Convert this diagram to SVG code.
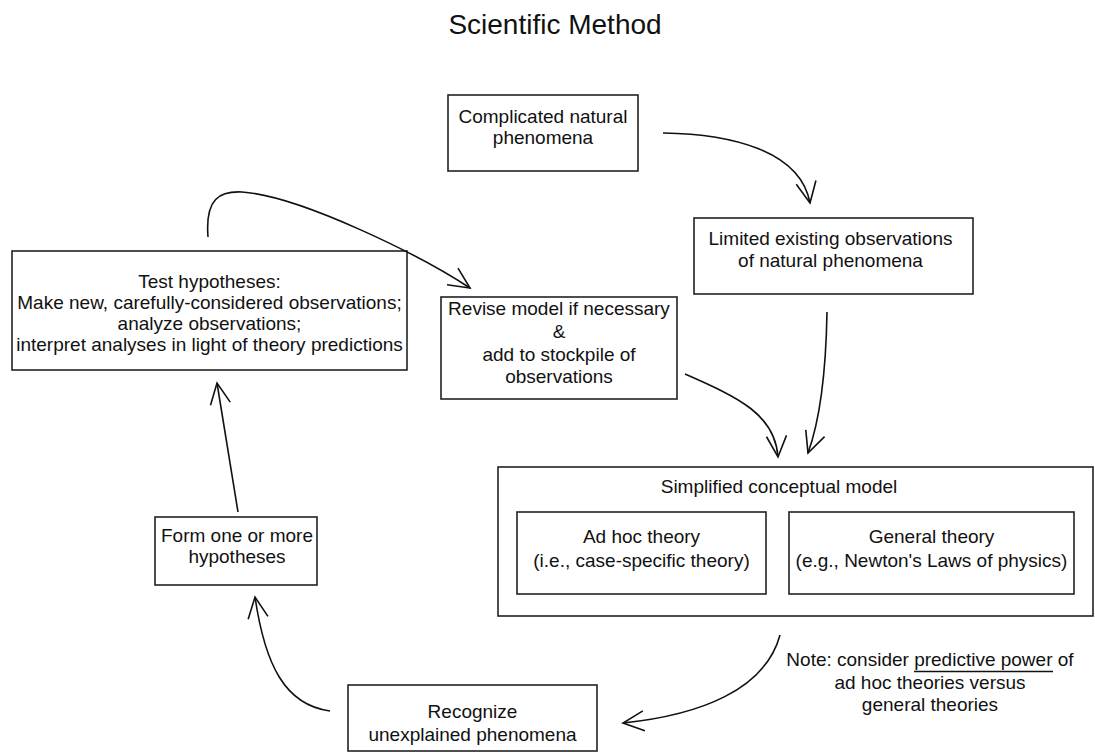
<svg xmlns="http://www.w3.org/2000/svg" width="1095" height="753" viewBox="0 0 1095 753">
<style>
.box{fill:#fff;stroke:#222;stroke-width:1.6}
.t{font-family:"Liberation Sans",Arial,Helvetica,sans-serif;font-size:19px;fill:#111;text-anchor:middle}
.title{font-family:"Liberation Sans",Arial,Helvetica,sans-serif;font-size:28px;fill:#111;text-anchor:middle}
.c{fill:none;stroke:#111;stroke-width:1.6}
</style>
<defs>
<marker id="ah" markerUnits="userSpaceOnUse" viewBox="-25 -15 30 30" markerWidth="30" markerHeight="30" refX="0" refY="0" orient="auto">
<path d="M-21,-10 L0,0 L-21,10" fill="none" stroke="#111" stroke-width="1.6" stroke-linejoin="miter"/>
</marker>
</defs>
<rect width="1095" height="753" fill="#fff"/>
<text class="title" x="555" y="34">Scientific Method</text>

<g id="complicated">
<rect class="box" x="448" y="95" width="190" height="76"/>
<text class="t" x="543" y="123">Complicated natural</text>
<text class="t" x="543" y="144">phenomena</text>
</g>
<g id="limited">
<rect class="box" x="694" y="218" width="279" height="76"/>
<text class="t" x="830.5" y="245">Limited existing observations</text>
<text class="t" x="830.5" y="267">of natural phenomena</text>
</g>
<g id="test">
<rect class="box" x="12" y="251" width="395" height="119"/>
<text class="t" x="209.5" y="288">Test hypotheses:</text>
<text class="t" x="209.5" y="309">Make new, carefully-considered observations;</text>
<text class="t" x="209.5" y="330">analyze observations;</text>
<text class="t" x="209.5" y="351">interpret analyses in light of theory predictions</text>
</g>
<g id="revise">
<rect class="box" x="441" y="297" width="236" height="102"/>
<text class="t" x="559" y="315">Revise model if necessary</text>
<text class="t" x="559" y="338">&amp;</text>
<text class="t" x="559" y="361">add to stockpile of</text>
<text class="t" x="559" y="383">observations</text>
</g>
<g id="model">
<rect class="box" x="498" y="467" width="595" height="149"/>
<text class="t" x="779" y="493">Simplified conceptual model</text>
<g id="adhoc">
<rect class="box" x="517" y="512" width="249" height="82"/>
<text class="t" x="641.5" y="543">Ad hoc theory</text>
<text class="t" x="641.5" y="567">(i.e., case-specific theory)</text>
</g>
<g id="general">
<rect class="box" x="789" y="512" width="285" height="82"/>
<text class="t" x="931.5" y="543">General theory</text>
<text class="t" x="931.5" y="567">(e.g., Newton's Laws of physics)</text>
</g>
</g>
<g id="form">
<rect class="box" x="155" y="517" width="162" height="68"/>
<text class="t" x="237" y="542">Form one or more</text>
<text class="t" x="237" y="563">hypotheses</text>
</g>
<g id="recognize">
<rect class="box" x="348" y="685" width="249" height="66"/>
<text class="t" x="472.5" y="718">Recognize</text>
<text class="t" x="472.5" y="741">unexplained phenomena</text>
</g>
<g id="note">
<text class="t" x="930" y="666">Note: consider predictive power of</text>
<line x1="914" y1="671.5" x2="1053" y2="671.5" stroke="#111" stroke-width="1.3"/>
<text class="t" x="930" y="689">ad hoc theories versus</text>
<text class="t" x="930" y="711">general theories</text>
</g>

<g id="connectors">
<path class="c" d="M663,133 C730,134 800,150 810,203" marker-end="url(#ah)"/>
<path class="c" d="M208,237 C205,198 220,191 242,192 C300,196 420,255 470,288" marker-end="url(#ah)"/>
<path class="c" d="M685,374 C740,398 775,415 778,457" marker-end="url(#ah)"/>
<path class="c" d="M827,312 C826,370 820,420 808,453" marker-end="url(#ah)"/>
<path class="c" d="M780,635 C765,690 700,715 623,723" marker-end="url(#ah)"/>
<path class="c" d="M330,711 C285,705 265,665 255,597" marker-end="url(#ah)"/>
<path class="c" d="M238,512 L217,383" marker-end="url(#ah)"/>
</g>
</svg>
